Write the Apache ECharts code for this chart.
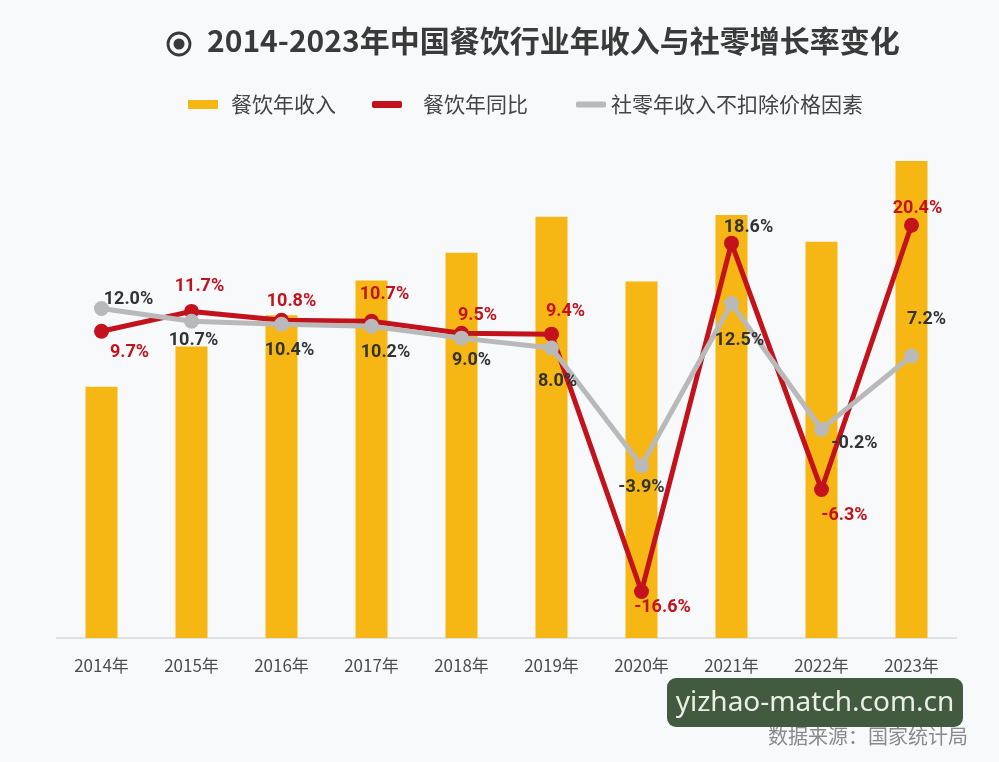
<!DOCTYPE html>
<html>
<head>
<meta charset="utf-8">
<title>2014-2023年中国餐饮行业年收入与社零增长率变化</title>
<script src="https://cdn.jsdelivr.net/npm/echarts@6/dist/echarts.min.js"></script>
<style>
  html, body { margin: 0; padding: 0; background: #f7f9fa; }
  #chart { width: 999px; height: 762px; }
</style>
</head>
<body>
<div id="chart"></div>
<script>
// data
const years = ["2014年", "2015年", "2016年", "2017年", "2018年", "2019年", "2020年", "2021年", "2022年", "2023年"];
const revenue = [27860, 32310, 35799, 39644, 42716, 46721, 39527, 46895, 43941, 52890]; // 亿元
const revenueYoY = [9.7, 11.7, 10.8, 10.7, 9.5, 9.4, -16.6, 18.6, -6.3, 20.4];
const retailGrowth = [12.0, 10.7, 10.4, 10.2, 9.0, 8.0, -3.9, 12.5, -0.2, 7.2];

// label placement (offset from each point, px)
const redLabelOffsets = [[28, 21], [8, -25], [10, -19], [13, -27], [16, -18], [14, -23], [21, 16], [17, -16], [23, 26], [6, -17]];
const grayLabelOffsets = [[27, -9], [2, 19], [8, 26], [14, 26], [10, 22], [6, 33], [0, 22], [8, 37], [33, 14], [15, -36]];

const RED = "#c3121c";
const GRAY = "#b9b9b9";
const ORANGE = "#f6b614";

const chart = echarts.init(document.getElementById("chart"));

const labelFont = {
  fontFamily: "Roboto",
  fontWeight: "bold",
  fontSize: 18,
};

// one legend per entry so each sits where the reference puts it
function legendAt(left, name, icon, h, gap) {
  return {
    left: left,
    top: 106 - 12,
    padding: 0,
    itemWidth: 30,
    itemHeight: h,
    textStyle: {
      fontFamily: "Noto Sans CJK SC",
      fontSize: 21,
      color: "#444",
      padding: [0, 0, 0, gap],
    },
    data: [{ name: name, icon: icon }],
  };
}

const option = {
  backgroundColor: "#f7f9fa",
  animation: false,
  title: {
    text: "2014-2023年中国餐饮行业年收入与社零增长率变化",
    left: 207,
    top: 26,
    padding: 0,
    textStyle: {
      fontFamily: "Noto Sans CJK SC",
      fontSize: 30,
      fontWeight: "bold",
      color: "#3a3a3a",
    },
  },
  legend: [
    legendAt(188, "餐饮年收入", "rect", 9, 8),
    legendAt(372, "餐饮年同比", "roundRect", 7, 16),
    legendAt(576, "社零年收入不扣除价格因素", "roundRect", 6, 0),
  ],
  grid: {
    left: 56.5,
    right: 42.5,
    top: 160,
    bottom: 124,
  },
  xAxis: {
    type: "category",
    data: years,
    axisTick: { show: false },
    axisLine: { lineStyle: { color: "#d6d8da", width: 1.5 } },
    axisLabel: {
      margin: 19,
      fontFamily: "Noto Sans CJK SC",
      fontSize: 17,
      color: "#4d4d4d",
    },
  },
  yAxis: [
    { type: "value", min: 0, max: 53000, show: false, splitLine: { show: false } },
    { type: "value", min: -21.3, max: 27, show: false, splitLine: { show: false } },
  ],
  series: [
    {
      name: "餐饮年收入",
      type: "bar",
      data: revenue,
      barWidth: 32,
      itemStyle: { color: ORANGE },
      z: 1,
    },
    {
      name: "餐饮年同比",
      type: "line",
      yAxisIndex: 1,
      data: revenueYoY.map((v, i) => ({
        value: v,
        label: {
          offset: redLabelOffsets[i],
          color: i === 7 ? "#333" : RED,
        },
      })),
      symbol: "circle",
      symbolSize: 15,
      lineStyle: { color: RED, width: 5 },
      itemStyle: { color: RED },
      label: {
        show: true,
        position: "inside",
        formatter: (p) => p.value.toFixed(1) + "%",
        ...labelFont,
      },
      z: 3,
    },
    {
      name: "社零年收入不扣除价格因素",
      type: "line",
      yAxisIndex: 1,
      data: retailGrowth.map((v, i) => ({
        value: v,
        label: { offset: grayLabelOffsets[i] },
      })),
      symbol: "circle",
      symbolSize: 15,
      lineStyle: { color: GRAY, width: 5 },
      itemStyle: { color: GRAY },
      label: {
        show: true,
        position: "inside",
        color: "#333",
        formatter: (p) => p.value.toFixed(1) + "%",
        ...labelFont,
      },
      z: 4,
    },
  ],
  graphic: [
    // title bullet
    {
      type: "circle",
      shape: { cx: 179, cy: 44, r: 11 },
      style: { fill: "none", stroke: "#3a3a3a", lineWidth: 2.8 },
    },
    {
      type: "circle",
      shape: { cx: 179, cy: 44, r: 5.5 },
      style: { fill: "#3a3a3a" },
    },
    // source
    {
      type: "text",
      right: 31,
      top: 726,
      style: {
        text: "数据来源：国家统计局",
        font: '20px "Noto Sans CJK SC"',
        fill: "#8a8a8a",
      },
    },
    // watermark
    {
      type: "group",
      left: 667,
      top: 678,
      z: 100,
      children: [
        {
          type: "rect",
          shape: { x: 0, y: 0, width: 296, height: 49, r: 9 },
          style: { fill: "#425a40" },
        },
        {
          type: "text",
          x: 148,
          y: 25,
          style: {
            text: "yizhao-match.com.cn",
            font: '28px "Noto Sans"',
            fill: "#e9efe4",
            align: "center",
            verticalAlign: "middle",
          },
        },
      ],
    },
  ],
};

chart.setOption(option);
</script>
</body>
</html>
